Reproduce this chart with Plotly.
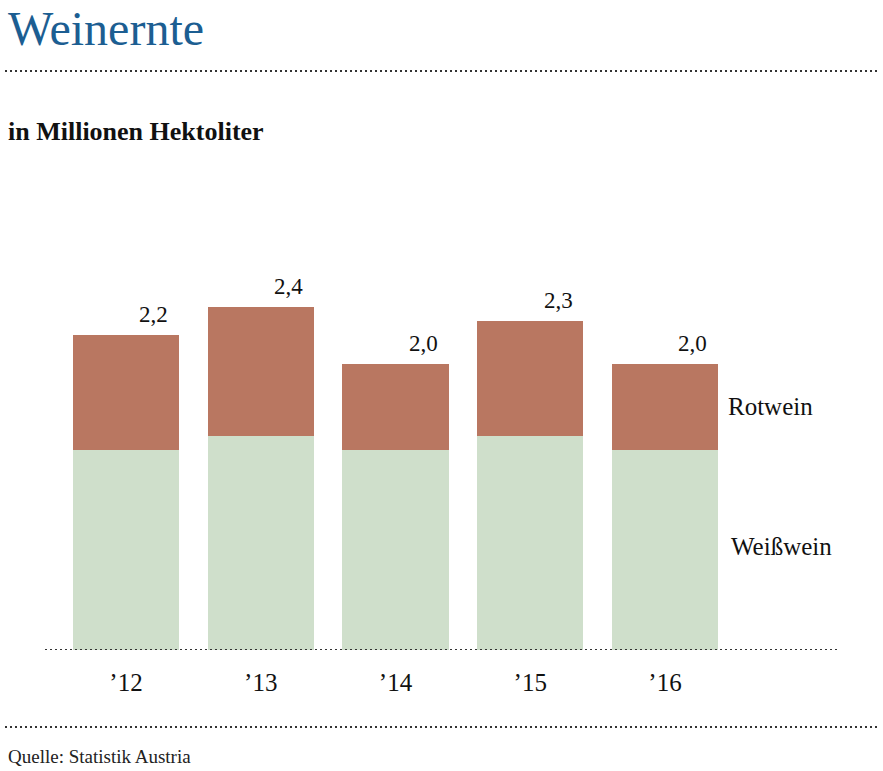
import plotly.graph_objects as go

# data
years = ["’12", "’13", "’14", "’15", "’16"]
weisswein = [1.4, 1.5, 1.4, 1.5, 1.4]
rotwein = [0.8, 0.9, 0.6, 0.8, 0.6]
totals = ["2,2", "2,4", "2,0", "2,3", "2,0"]

FONT = "Liberation Serif"
RED = "#b97761"
GREEN = "#cfdfcb"

H = 771
W = 883
L, R, T, B = 45, 43, 180, 121
ph = H - T - B
pw = W - L - R


def ypaper(py):
    return (H - B - py) / ph


def xpaper(px):
    return (px - L) / pw


fig = go.Figure()
fig.add_trace(go.Bar(x=years, y=weisswein, name="Weißwein",
                     marker=dict(color=GREEN, line=dict(width=0)),
                     width=0.787, hoverinfo="skip"))
fig.add_trace(go.Bar(x=years, y=rotwein, name="Rotwein",
                     marker=dict(color=RED, line=dict(width=0)),
                     width=0.787, hoverinfo="skip"))

# total labels above the bars
for yr, w, r, t in zip(years, weisswein, rotwein, totals):
    fig.add_annotation(x=yr, y=w + r, text=t, showarrow=False,
                       xref="x", yref="y", yanchor="bottom",
                       xshift=28, yshift=6,
                       font=dict(family=FONT, size=23, color="#111111"))

# series labels right of the last bar
fig.add_annotation(x=years[-1], y=weisswein[-1] + rotwein[-1] / 2, text="Rotwein",
                   showarrow=False, xanchor="left", xshift=61,
                   font=dict(family=FONT, size=25, color="#111111"))
fig.add_annotation(x=years[-1], y=weisswein[-1] / 2, text="Weißwein",
                   showarrow=False, xanchor="left", xshift=64, yshift=3,
                   font=dict(family=FONT, size=25, color="#111111"))

# title, subtitle, source
fig.add_annotation(x=xpaper(6), y=ypaper(28), xref="paper", yref="paper", text="Weinernte",
                   showarrow=False, xanchor="left", yanchor="middle",
                   font=dict(family=FONT, size=48, color="#1c5e92"))
fig.add_annotation(x=xpaper(6), y=ypaper(131), xref="paper", yref="paper",
                   text="<b>in Millionen Hektoliter</b>",
                   showarrow=False, xanchor="left", yanchor="middle",
                   font=dict(family=FONT, size=26, color="#111111"))
fig.add_annotation(x=xpaper(6), y=ypaper(756), xref="paper", yref="paper",
                   text="Quelle: Statistik Austria",
                   showarrow=False, xanchor="left", yanchor="middle",
                   font=dict(family=FONT, size=19, color="#222222"))

dots = dict(color="#333333", width=2, dash="2px,3px")
fig.add_shape(type="line", xref="paper", yref="y", x0=0, x1=1, y0=0, y1=0, line=dots)
fig.add_shape(type="line", xref="paper", yref="paper", x0=xpaper(5), x1=xpaper(879),
              y0=ypaper(71), y1=ypaper(71), line=dots)
fig.add_shape(type="line", xref="paper", yref="paper", x0=xpaper(5), x1=xpaper(879),
              y0=ypaper(727), y1=ypaper(727), line=dots)

fig.update_layout(
    barmode="stack",
    width=W, height=H,
    margin=dict(l=L, r=R, t=T, b=B, pad=0),
    paper_bgcolor="white", plot_bgcolor="white",
    showlegend=False,
    xaxis=dict(range=[-0.601, 5.299], showgrid=False, zeroline=False, showline=False,
               ticks="", ticklabelstandoff=15,
               tickfont=dict(family=FONT, size=25, color="#111111")),
    yaxis=dict(range=[0, ph / 143.0], showgrid=False, zeroline=False, showline=False,
               showticklabels=False, ticks=""),
)

fig.write_html("out.html", config={"displayModeBar": False},
               post_script="document.body.style.margin='0px';document.body.style.overflow='hidden';")
